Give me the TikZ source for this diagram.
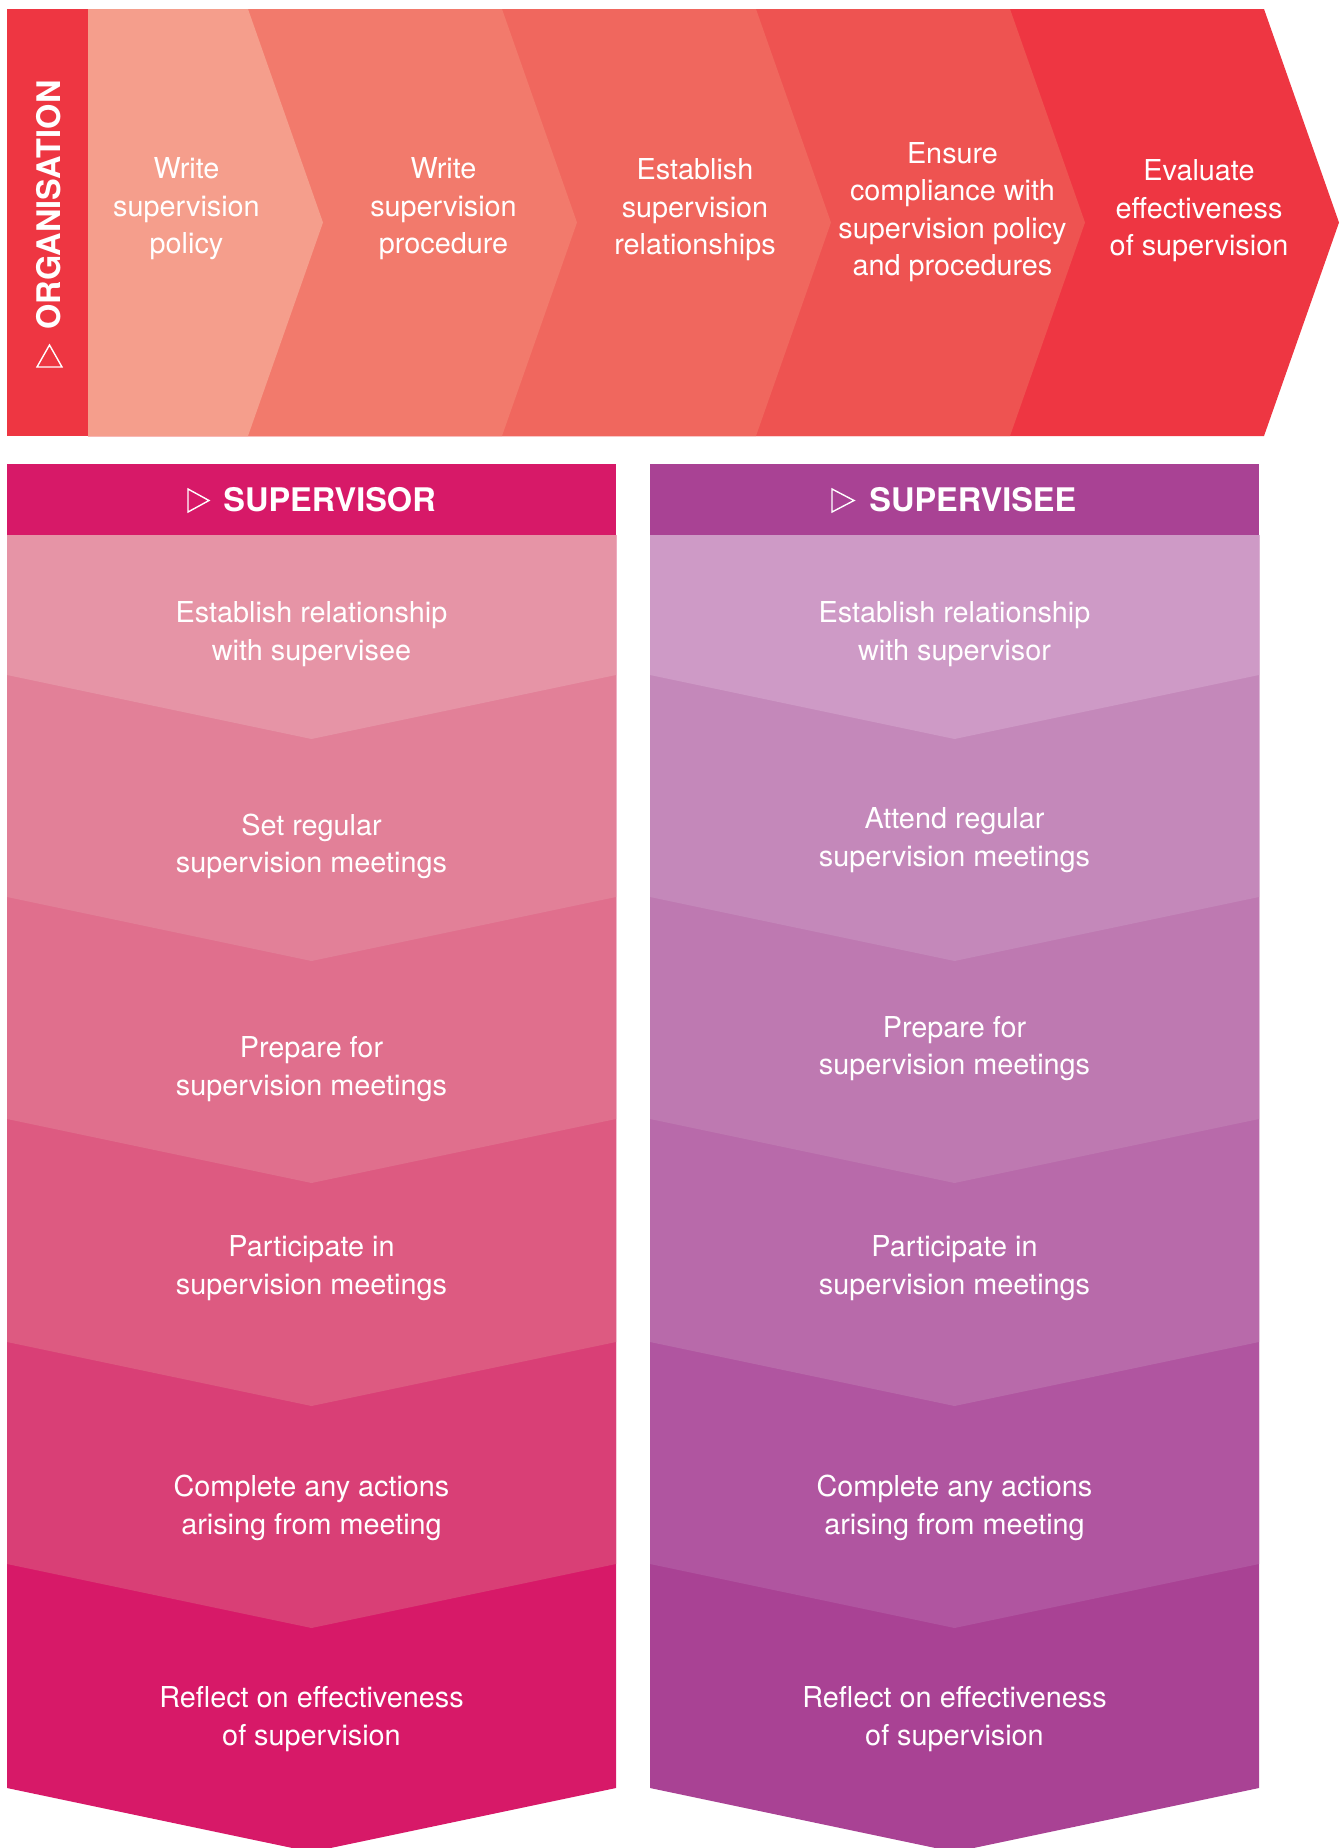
\documentclass[tikz,border=0pt]{standalone}
\usepackage{fontspec}
\setmainfont{TeX Gyre Heros}
\definecolor{orgred}{HTML}{EE3642}
\definecolor{ban1}{HTML}{F59E8C}
\definecolor{ban2}{HTML}{F27A6C}
\definecolor{ban3}{HTML}{F0675E}
\definecolor{ban4}{HTML}{EE5351}
\definecolor{ban5}{HTML}{EE3642}
\definecolor{suphead}{HTML}{D71968}
\definecolor{sup1}{HTML}{E694A6}
\definecolor{sup2}{HTML}{E28098}
\definecolor{sup3}{HTML}{E06F8D}
\definecolor{sup4}{HTML}{DD5A81}
\definecolor{sup5}{HTML}{D93F76}
\definecolor{sup6}{HTML}{D71968}
\definecolor{seehead}{HTML}{A94294}
\definecolor{see1}{HTML}{CE9AC6}
\definecolor{see2}{HTML}{C488BA}
\definecolor{see3}{HTML}{BE79B1}
\definecolor{see4}{HTML}{B86AAA}
\definecolor{see5}{HTML}{B055A0}
\definecolor{see6}{HTML}{A94294}
\begin{document}
\begin{tikzpicture}[x=0.5pt,y=-0.5pt,
  txt/.style={text=white,align=center,inner sep=0pt,font=\fontsize{14.4}{18.75}\selectfont},
  lbl/.style={text=white,inner sep=0pt,font=\fontsize{16.25}{19}\selectfont\bfseries},
  tri/.style={draw=white,line width=0.7pt,line join=miter}]
\useasboundingbox (0,0) rectangle (1343,1848);
% banner chevrons
\foreach \i/\c in {5/ban5,4/ban4,3/ban3,2/ban2,1/ban1} {
  \pgfmathsetmacro\xt{248+254*(\i-1)}
  \fill[fill=\c] (88,9) -- (\xt,9) -- (\xt+75,222.5) -- (\xt,436) -- (88,436) -- cycle;
}
\fill[orgred] (7,9) rectangle (88,436);
\node[lbl,rotate=90,anchor=base west] (org) at (61,330) {ORGANISATION};
\draw[tri] (37,367) -- (62,367) -- (49.5,345) -- cycle;
\node[txt] (b1) at (186.5,209) {Write\\supervision\\policy};
\node[txt] (b2) at (443.5,209) {Write\\supervision\\procedure};
\node[txt] (b3) at (695,210) {Establish\\supervision\\relationships};
\node[txt] (b4) at (952.5,212) {Ensure\\compliance with\\supervision policy\\and procedures};
\node[txt] (b5) at (1199,211) {Evaluate\\effectiveness\\of supervision};
% columns
\foreach \L/\p in {7/sup,650/see} {
  \foreach \k/\e in {6/1788,5/1564,4/1342,3/1119,2/897,1/675} {
    \fill[fill=\p\k] (\L,535) -- (\L+609,535) -- (\L+609,\e) -- (\L+304.5,\e+64) -- (\L,\e) -- cycle;
  }
}
\fill[suphead] (7,464) rectangle (616,535);
\fill[seehead] (650,464) rectangle (1259,535);
\draw[tri] (188,489) -- (209,500.5) -- (188,512) -- cycle;
\node[lbl,anchor=base west] (hsup) at (223,511.5) {SUPERVISOR};
\draw[tri] (832,489) -- (854,500.5) -- (832,512) -- cycle;
\node[lbl,anchor=base west] (hsee) at (869,511.5) {SUPERVISEE};
% supervisor texts
\node[txt] (s1) at (311.5,634) {Establish relationship\\with supervisee};
\node[txt] (s2) at (311.5,846.5) {Set regular\\supervision meetings};
\node[txt] (s3) at (311.5,1069) {Prepare for\\supervision meetings};
\node[txt] (s4) at (311.5,1268) {Participate in\\supervision meetings};
\node[txt] (s5) at (311.5,1508) {Complete any actions\\arising from meeting};
\node[txt] (s6) at (311.5,1719) {Reflect on effectiveness\\of supervision};
% supervisee texts
\node[txt] (e1) at (954.5,634) {Establish relationship\\with supervisor};
\node[txt] (e2) at (954.5,840) {Attend regular\\supervision meetings};
\node[txt] (e3) at (954.5,1048.5) {Prepare for\\supervision meetings};
\node[txt] (e4) at (954.5,1268) {Participate in\\supervision meetings};
\node[txt] (e5) at (954.5,1508) {Complete any actions\\arising from meeting};
\node[txt] (e6) at (954.5,1719) {Reflect on effectiveness\\of supervision};
\end{tikzpicture}
\end{document}
